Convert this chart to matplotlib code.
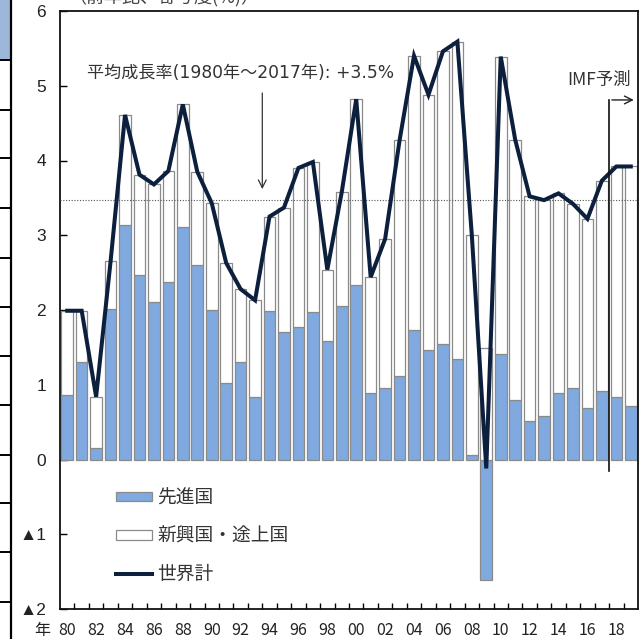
import numpy as np
import matplotlib.pyplot as plt
import matplotlib.transforms as mtransforms
from matplotlib.patches import Patch, Rectangle
from matplotlib.lines import Line2D

plt.rcParams['font.family'] = ['Noto Sans CJK JP', 'DejaVu Sans']

years = np.arange(1980, 2020)
# 先進国 contribution (blue)
advanced = [0.86, 1.31, 0.15, 2.02, 3.14, 2.47, 2.11, 2.38, 3.11, 2.60,
            2.00, 1.02, 1.30, 0.83, 1.98, 1.70, 1.77, 1.97, 1.59, 2.05,
            2.33, 0.89, 0.96, 1.12, 1.73, 1.47, 1.55, 1.35, 0.06, -1.61,
            1.41, 0.80, 0.52, 0.58, 0.89, 0.95, 0.69, 0.91, 0.83, 0.72]
# 世界計 (line, and top of the stacked bar)
world = [1.99, 1.99, 0.84, 2.65, 4.61, 3.81, 3.68, 3.86, 4.75, 3.85,
         3.43, 2.63, 2.28, 2.13, 3.25, 3.37, 3.90, 3.98, 2.54, 3.58,
         4.82, 2.44, 2.95, 4.27, 5.40, 4.88, 5.46, 5.59, 3.00, -0.12,
         5.39, 4.28, 3.52, 3.47, 3.56, 3.42, 3.22, 3.73, 3.92, 3.92]
avg_growth = 3.47
forecast_from = 2017.5

ytick_vals = [-2, -1, 0, 1, 2, 3, 4, 5, 6]
ytick_labels = ['▲2', '▲1', '0', '1', '2', '3', '4', '5', '6']
xtick_vals = list(range(1980, 2020, 2))
xtick_labels = [f'{y % 100:02d}' for y in xtick_vals]

adv = np.array(advanced)
emerging = np.array(world) - adv
bottom = np.where(adv > 0, adv, 0)

blue = '#80a9e0'
edge = '#8a8a8a'
navy = '#0c1f3d'
txt = '#333333'

fig = plt.figure(figsize=(6.4, 6.39), dpi=100)
ax = fig.add_axes([60/640, 1 - 609/639, 578/640, 598/639])

ax.bar(years, adv, width=0.8, color=blue, edgecolor=edge, linewidth=0.9, zorder=2)
ax.bar(years, emerging, width=0.8, bottom=bottom, color='white',
       edgecolor=edge, linewidth=0.9, zorder=2)
ax.axhline(avg_growth, color='#555555', linestyle=(0, (1, 1.5)), linewidth=0.8, zorder=3)
ax.plot(years, world, color=navy, linewidth=2.9, zorder=4, solid_joinstyle='miter')

ax.set_xlim(1979.5, 2019.5)
ax.set_ylim(-2, 6)
ax.set_yticks(ytick_vals)
ax.set_yticklabels(ytick_labels, fontsize=12.5, color='#222222')
for lbl in ax.get_yticklabels():
    lbl.set_fontfamily(['Liberation Sans', 'Noto Sans CJK JP'])
ax.set_xticks(xtick_vals)
ax.set_xticklabels(xtick_labels, fontsize=11.5, color='#222222')
ax.set_xticks(np.arange(1980.5, 2019, 1), minor=True)
xpad = 9.5
ax.tick_params(axis='x', which='major', length=0, pad=xpad)
ax.tick_params(axis='x', which='minor', direction='in', length=4, width=1)
ax.tick_params(axis='y', which='major', direction='in', length=5, width=1, pad=10)
for s in ax.spines.values():
    s.set_linewidth(1.3)
    s.set_color('#111111')

# "年" in front of the year labels
trans = mtransforms.blended_transform_factory(ax.transData, ax.transAxes)
trans = mtransforms.offset_copy(trans, fig=fig, y=-xpad, units='points')
ax.text(1978.25, 0, '年', transform=trans, fontsize=11.5, ha='center', va='top',
        color='#222222', clip_on=False)

# annotation: average growth
ax.text(1981.35, 5.17, '平均成長率(1980年～2017年): +3.5%', fontsize=12.3,
        family=['DejaVu Sans', 'Noto Sans CJK JP'], ha='left', va='center', color=txt)
ax.annotate('', xy=(1993.5, 3.58), xytext=(1993.5, 4.94),
            arrowprops=dict(arrowstyle='->', lw=0.9, color=txt, mutation_scale=14))

# IMF forecast marker
ax.text(2014.6, 5.08, 'IMF予測', fontsize=12.5, ha='left', va='center', color=txt)
ax.plot([forecast_from, forecast_from], [-0.16, 4.81], color='#111111', lw=1.2, zorder=5)
ax.annotate('', xy=(2019.4, 4.81), xytext=(forecast_from, 4.81),
            arrowprops=dict(arrowstyle='->', lw=1.0, color='#222222', mutation_scale=14),
            zorder=5)

handles = [Patch(facecolor=blue, edgecolor=edge, linewidth=0.9),
           Patch(facecolor='white', edgecolor=edge, linewidth=0.9),
           Line2D([0], [0], color=navy, linewidth=2.9)]
labels = ['先進国', '新興国・途上国', '世界計']
leg = ax.legend(handles, labels, loc='upper left', bbox_to_anchor=(0.097, 0.2035),
                frameon=False, fontsize=13.5, handlelength=1.9, handleheight=0.42,
                handletextpad=0.3, labelspacing=0.91, borderaxespad=0, borderpad=0)
for t in leg.get_texts():
    t.set_color(txt)

fig.text(68/640, 1.004, '（前年比、寄与度(%)）', fontsize=13, ha='left', va='center',
         color='#444444')

# edge of the neighbouring table, cut off on the left
fig.add_artist(Rectangle((0, 1 - 60/639), 10/640, 60/639, transform=fig.transFigure,
                         facecolor='#9db7da', edgecolor='none'))
fig.add_artist(Line2D([11/640, 11/640], [0, 1], transform=fig.transFigure,
                      color='black', lw=1.6))
for yy in [60, 110, 158, 208, 258, 307, 356, 405, 455, 503, 552, 602]:
    fig.add_artist(Line2D([0, 11/640], [1 - yy/639, 1 - yy/639],
                          transform=fig.transFigure, color='black', lw=1.4))

fig.savefig('out.png', dpi=100)
